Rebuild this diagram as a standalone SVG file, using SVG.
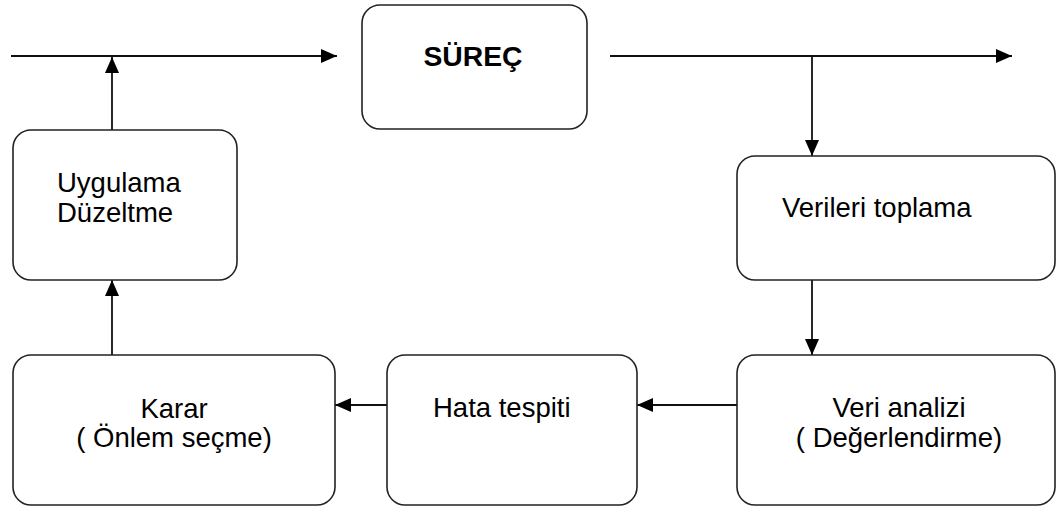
<svg xmlns="http://www.w3.org/2000/svg" width="1057" height="511" viewBox="0 0 1057 511">
<style>
.box{fill:#fff;stroke:#222;stroke-width:1.6}
.lbl{font-family:"Liberation Sans",Arial,sans-serif;font-size:27.5px;fill:#000}
.b{font-weight:bold}
.con{fill:none;stroke:#111;stroke-width:1.8}
</style>
<defs>
<marker id="ah" viewBox="0 0 16 14" refX="16" refY="7" markerWidth="16" markerHeight="14" markerUnits="userSpaceOnUse" orient="auto">
<path d="M0,0 L16,7 L0,14 Z" fill="#000"/>
</marker>
</defs>
<rect width="1057" height="511" fill="#fff"/>
<g id="connectors">
<line class="con" x1="11" y1="56" x2="337" y2="56" marker-end="url(#ah)"/>
<line class="con" x1="112" y1="130" x2="112" y2="57" marker-end="url(#ah)"/>
<line class="con" x1="610" y1="56" x2="1012" y2="56" marker-end="url(#ah)"/>
<line class="con" x1="812" y1="56" x2="812" y2="156" marker-end="url(#ah)"/>
<line class="con" x1="812" y1="280" x2="812" y2="355" marker-end="url(#ah)"/>
<line class="con" x1="737" y1="405" x2="637" y2="405" marker-end="url(#ah)"/>
<line class="con" x1="387" y1="405" x2="335" y2="405" marker-end="url(#ah)"/>
<line class="con" x1="112" y1="355" x2="112" y2="280" marker-end="url(#ah)"/>
</g>
<g id="surec">
<rect class="box" x="362" y="5" width="225" height="124" rx="18"/>
<text class="lbl b" x="473" y="66" text-anchor="middle" textLength="99" lengthAdjust="spacingAndGlyphs">SÜREÇ</text>
</g>
<g id="verileri-toplama">
<rect class="box" x="737" y="156" width="318" height="124" rx="18"/>
<text class="lbl" x="782" y="217">Verileri toplama</text>
</g>
<g id="uygulama">
<rect class="box" x="13" y="130" width="224" height="150" rx="18"/>
<text class="lbl" x="57" y="192">Uygulama</text>
<text class="lbl" x="57" y="222">Düzeltme</text>
</g>
<g id="karar">
<rect class="box" x="13" y="355" width="322" height="150" rx="18"/>
<text class="lbl" x="174" y="418" text-anchor="middle">Karar</text>
<text class="lbl" x="174" y="447" text-anchor="middle">( Önlem seçme)</text>
</g>
<g id="hata-tespiti">
<rect class="box" x="387" y="355" width="250" height="150" rx="18"/>
<text class="lbl" x="433" y="417">Hata tespiti</text>
</g>
<g id="veri-analizi">
<rect class="box" x="737" y="355" width="318" height="150" rx="18"/>
<text class="lbl" x="899" y="417" text-anchor="middle">Veri analizi</text>
<text class="lbl" x="899" y="447" text-anchor="middle">( Değerlendirme)</text>
</g>
</svg>
